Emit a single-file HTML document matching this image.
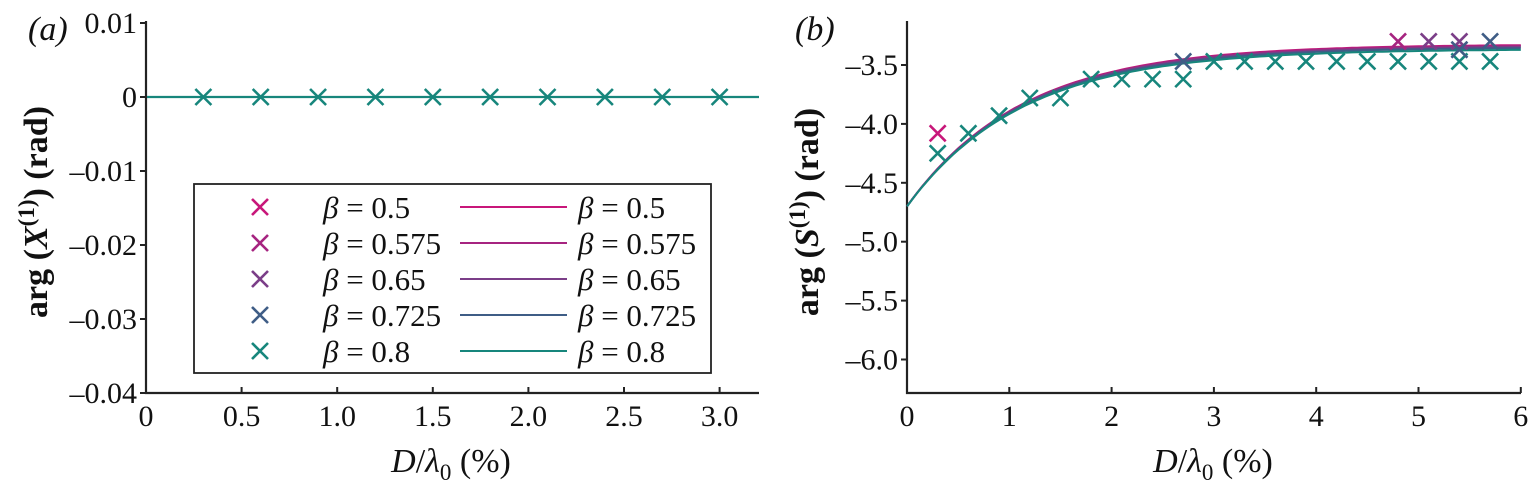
<!DOCTYPE html>
<html><head><meta charset="utf-8"><style>
html,body{margin:0;padding:0;background:#fff;}
svg, svg text{font-family:"Liberation Serif","DejaVu Serif",serif;}
</style></head><body>
<svg id="s" width="1529" height="489" viewBox="0 0 1529 489" xmlns="http://www.w3.org/2000/svg" font-family="Liberation Serif, serif">
<g stroke="#222" stroke-width="2.2" fill="none">
<path d="M146,21 V393 H759"/>
<path d="M907,21 V393 H1521"/>
</g>
<g id="ta" font-size="30" fill="#111" font-family="Liberation Serif, serif"></g>
<text x="28" y="40" font-size="34" font-style="italic" fill="#111" font-family="Liberation Serif, serif">(a)</text>
<text x="795" y="40" font-size="34" font-style="italic" fill="#111" font-family="Liberation Serif, serif">(b)</text>
<text transform="translate(47,212) rotate(-90)" font-size="34" font-weight="bold" text-anchor="middle" fill="#111" font-family="Liberation Serif, serif">arg (<tspan font-style="italic">X</tspan><tspan dy="-13" font-size="23">(1)</tspan><tspan dy="13">) (rad)</tspan></text>
<text transform="translate(818,212) rotate(-90)" font-size="34" font-weight="bold" text-anchor="middle" fill="#111" font-family="Liberation Serif, serif">arg (<tspan font-style="italic">S</tspan><tspan dy="-13" font-size="23">(1)</tspan><tspan dy="13">) (rad)</tspan></text>
<text x="451" y="472" font-size="34" text-anchor="middle" fill="#111" font-family="Liberation Serif, serif"><tspan font-style="italic">D</tspan>/<tspan font-style="italic">λ</tspan><tspan dy="8" font-size="23">0</tspan><tspan dy="-8"> (%)</tspan></text>
<text x="1213" y="472" font-size="34" text-anchor="middle" fill="#111" font-family="Liberation Serif, serif"><tspan font-style="italic">D</tspan>/<tspan font-style="italic">λ</tspan><tspan dy="8" font-size="23">0</tspan><tspan dy="-8"> (%)</tspan></text>
<g id="g"></g>
</svg>
<script>
const NS="http://www.w3.org/2000/svg",g=document.getElementById('g'),T=document.getElementById('ta');
function el(n,a,p){const e=document.createElementNS(NS,n);for(const k in a)e.setAttribute(k,a[k]);(p||g).appendChild(e);return e;}
function txt(x,y,s,anchor){const e=el('text',{x:x,y:y,'text-anchor':anchor,'font-family':'Liberation Serif, serif'},T);e.textContent=s;}
function cross(x,y,c){el('path',{d:`M${x-8},${y-8}L${x+8},${y+8}M${x+8},${y-8}L${x-8},${y+8}`,stroke:c,'stroke-width':2.6,fill:'none'});}
const C=['#c8177a','#a62480','#7b3e88','#3f5d86','#17867c'];
const ax=v=>146+v*191.2, ay=v=>97-v*7400;
[0.01,0,-0.01,-0.02,-0.03,-0.04].forEach(v=>{const y=ay(v);el('line',{x1:140,x2:146,y1:y,y2:y,stroke:'#222','stroke-width':2});
 txt(137,y+10,v==0?'0':(v<0?'\u2013'+Math.abs(v).toFixed(2):v.toFixed(2)),'end');});
[0,0.5,1,1.5,2,2.5,3].forEach(v=>{const x=ax(v);el('line',{x1:x,x2:x,y1:393,y2:387,stroke:'#222','stroke-width':2});
 txt(x,426,v==0?'0':v.toFixed(1),'middle');});
el('line',{x1:147,x2:759,y1:97,y2:97,stroke:C[4],'stroke-width':2.2});
for(let i=1;i<=10;i++)cross(ax(0.3*i),97,C[4]);
el('rect',{x:194,y:184,width:517,height:189,fill:'#fff',stroke:'#222','stroke-width':1.8});
const L=['0.5','0.575','0.65','0.725','0.8'];
L.forEach((s,i)=>{const y=207+i*36;cross(260,y,C[i]);
 el('line',{x1:460,x2:567,y1:y,y2:y,stroke:C[i],'stroke-width':2});
 [323,578].forEach(x=>{const t=el('text',{x:x,y:y+11,'font-size':31,fill:'#111','font-family':'Liberation Serif, serif'});t.innerHTML='<tspan font-style="italic">β</tspan> = '+s;});});
const bx=v=>907+v*102.3, by=v=>65-(v+3.5)*117.8;
[-3.5,-4,-4.5,-5,-5.5,-6].forEach(v=>{const y=by(v);el('line',{x1:901,x2:907,y1:y,y2:y,stroke:'#222','stroke-width':2});
 txt(898,y+10,'\u2013'+Math.abs(v).toFixed(1),'end');});
[0,1,2,3,4,5,6].forEach(v=>{const x=bx(v);el('line',{x1:x,x2:x,y1:393,y2:387,stroke:'#222','stroke-width':2});
 txt(x,426,String(v),'middle');});
const ends=[-3.325,-3.33,-3.34,-3.35,-3.365];
ends.forEach((a,i)=>{let d='';const b=-4.70-a;for(let k=0;k<=120;k++){const x=k*0.05;const v=a+b*Math.exp(-x/1.13);d+=(k?'L':'M')+bx(x).toFixed(1)+','+by(v).toFixed(1);}
 el('path',{d:d,stroke:C[i],'stroke-width':2,fill:'none'});});
const teal=[-4.25,-4.08,-3.93,-3.78,-3.78,-3.62,-3.62,-3.62,-3.62,-3.47,-3.47,-3.47,-3.47,-3.47,-3.47,-3.47,-3.47,-3.47,-3.47];
teal.forEach((v,i)=>cross(bx(0.3*(i+1)),by(v),C[4]));
cross(bx(0.3),by(-4.08),C[0]);
cross(bx(2.7),by(-3.47),C[3]);
cross(bx(4.8),by(-3.3),C[1]);
cross(bx(5.1),by(-3.3),C[2]);
cross(bx(5.4),by(-3.3),C[2]);
cross(bx(5.4),by(-3.37),C[3]);
cross(bx(5.7),by(-3.3),C[3]);
</script>
</body></html>
